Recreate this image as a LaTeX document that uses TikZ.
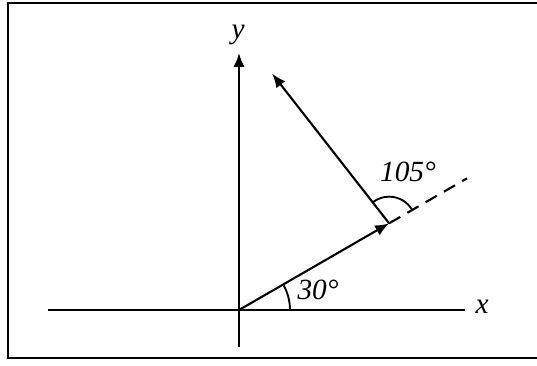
\documentclass[tikz,border=0pt]{standalone}
\usepackage{fontspec}
\setmainfont{Liberation Serif}
\usetikzlibrary{arrows.meta,calc}
\tikzset{
    axisline/.style={line width=1.8pt},
    vecarrow/.style={line width=1.8pt, -{Latex[length=4.2mm,width=3.4mm]}},
    extline/.style={line width=1.8pt, dash pattern=on 11pt off 7pt},
    anglearc/.style={line width=1.6pt},
    anglelabel/.style={font=\fontsize{25}{30}\selectfont\itshape, inner sep=1pt}
}

\begin{document}
\begin{tikzpicture}
        \useasboundingbox (-7.17,-1.68) rectangle (8.94,9.30);
        \draw[line width=2.5pt] (8.94,9.21) -- (-6.93,9.21) -- (-6.93,-1.44) -- (8.94,-1.44);

        \coordinate (o) at (0,0);
        \coordinate (xleft) at (-5.73,0);
        \coordinate (xright) at (6.78,0);
        \coordinate (ybottom) at (0,-1.11);
        \coordinate (ytop) at (0,7.71);
        \coordinate (a) at (30:5.2);
        \coordinate (ext) at (30:7.9);
        \coordinate (b) at ($(a)+(128:5.7)$);

        \draw[axisline] (xleft) -- (xright);
        \draw[vecarrow] (ybottom) -- (ytop);
        \draw[vecarrow] (o) -- (a);
        \draw[vecarrow] (a) -- (b);
        \draw[extline] (a) -- (ext);

        \draw[anglearc] ($(o)+(1.53,0)$) arc[start angle=0, end angle=30, radius=1.53];
        \draw[anglearc] ($(a)+(30:0.8)$) arc[start angle=30, end angle=128, radius=0.8];

        \node[anglelabel] (xlabel) at (7.29,0.09) {x};
        \node[anglelabel] (ylabel) at (-0.03,8.25) {y};
        \node[anglelabel] (alpha) at (2.37,0.6) {30°};
        \node[anglelabel] (beta) at (5.07,4.14) {105°};
    \end{tikzpicture}
\end{document}
